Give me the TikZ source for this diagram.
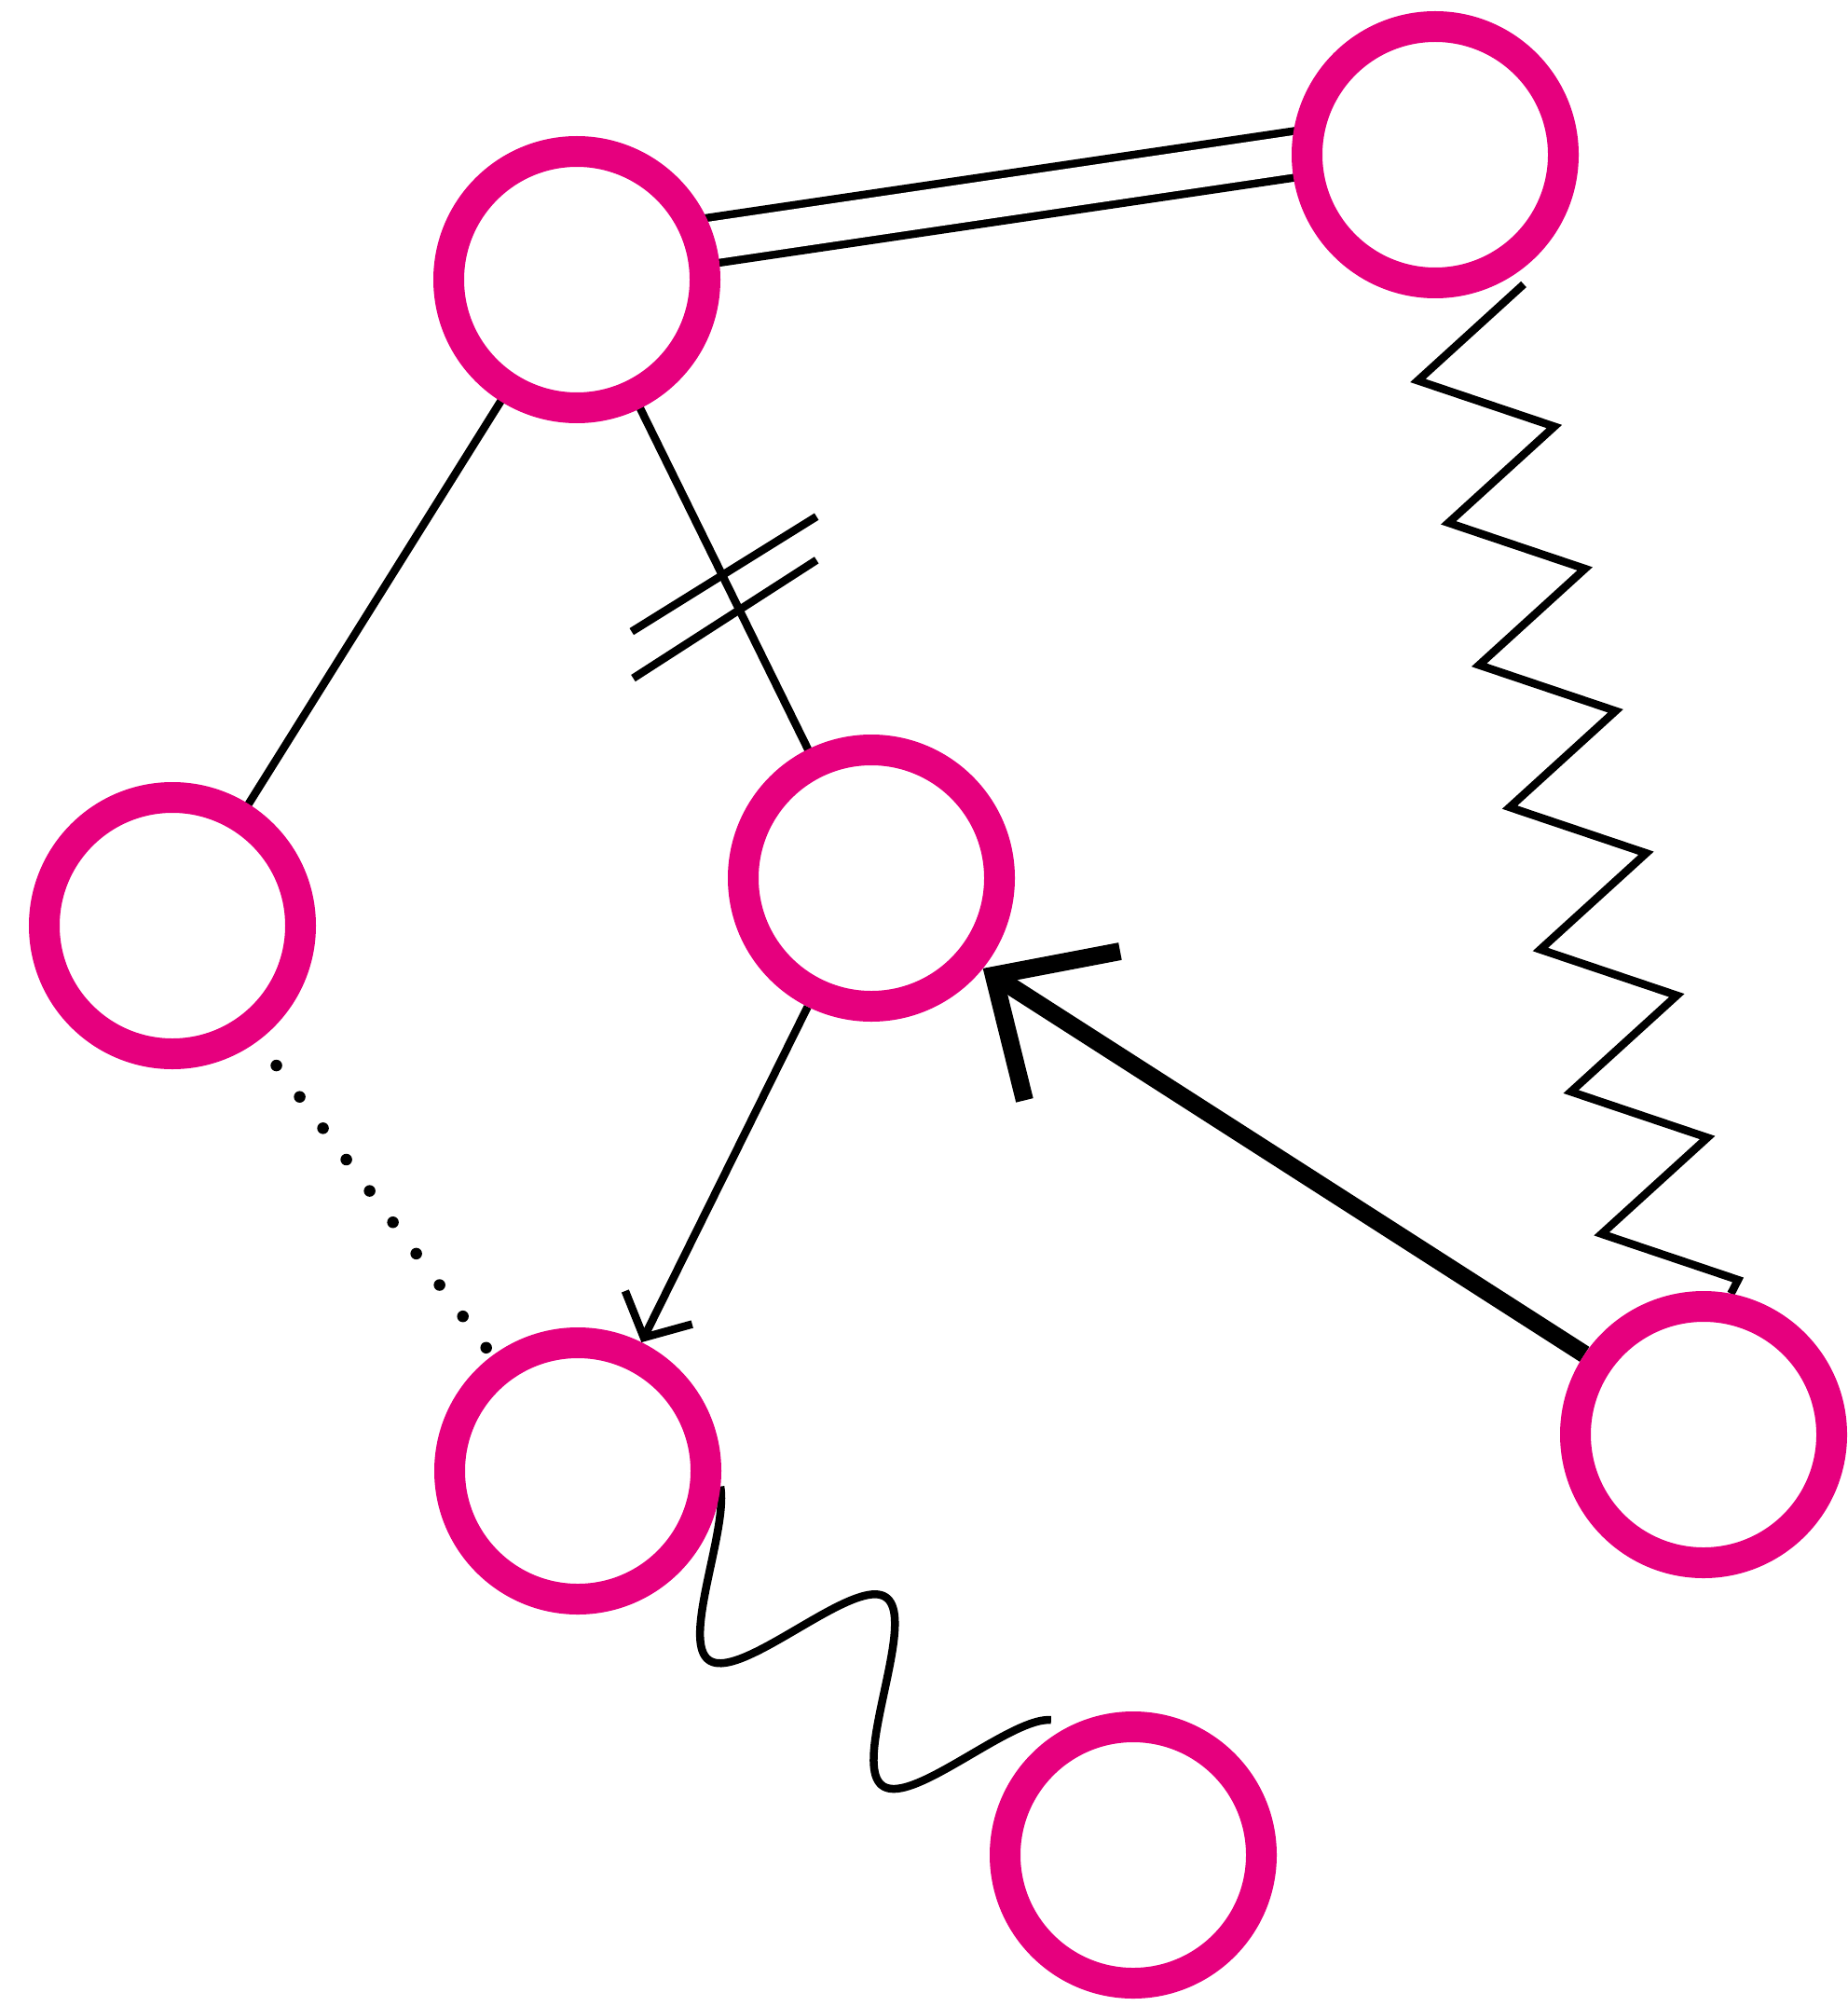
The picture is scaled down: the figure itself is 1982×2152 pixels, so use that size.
\documentclass[tikz,border=0pt]{standalone}
\usetikzlibrary{arrows.meta,calc}
\definecolor{ringpink}{RGB}{230,0,126}
\newdimen\pxu \pxu=0.01cm
\pgfdeclarelayer{edges}
\pgfsetlayers{edges,main}
\begin{document}
\begin{tikzpicture}[x=0.01cm,y=-0.01cm,
  ring/.style={circle, draw=ringpink, line width=33\pxu, minimum size=275\pxu, inner sep=0pt},
  conn/.style={draw=black, line width=8.5\pxu},
  ext/.style={shorten <=-14\pxu, shorten >=-14\pxu}]
\useasboundingbox (0,0) rectangle (1982,2152);
\node[ring] (A) at (619,300) {};
\node[ring] (B) at (1540,166) {};
\node[ring] (C) at (185,993) {};
\node[ring] (D) at (935,942) {};
\node[ring] (E) at (620,1578) {};
\node[ring] (F) at (1828,1539) {};
\node[ring] (G) at (1216,1990) {};
\begin{pgfonlayer}{edges}
% double line A = B
\draw[conn, double=white, double distance=41\pxu, ext] (A.16) -- (B.180);
% A -- C
\draw[conn, ext] (A) -- (C);
% A -- D with two hash marks
\draw[conn, ext] (A) -- (D);
\coordinate (h1) at ($(A)!0.492!(D)$);
\draw[conn] ($(h1)+(-96.7,61.7)$) -- ($(h1)+(101.7,-61.7)$);
\draw[conn] ($(h1)+(-95,111.7)$) -- ($(h1)+(101.7,-15)$);
% D -> E thin arrow
\draw[conn, -{Straight Barb[length=10.2pt, width=22.8pt]}] (D) -- (E);
% F -> D thick arrow
\draw[line width=19\pxu, -{Straight Barb[length=28.5pt, width=54pt]}] (F.146) -- (D.-39);
% zigzag B -- F
\coordinate (z0) at ([shift={(95,139)}]B.center);
\coordinate (z7) at ([shift={(37,-166)}]F.center);
\draw[conn] (z0)
  \foreach \k [evaluate=\k as \a using (\k-0.5)/7, evaluate=\k as \b using \k/7] in {1,...,7} {
    -- ($(z0)!\a!(z7)+(-130,27)$) -- ($(z0)!\b!(z7)$)
  } -- (F.79);
% dotted C .. E
\draw[line width=12.5\pxu, line cap=round, dash pattern=on 0pt off 11.92pt,
      shorten <=33\pxu, shorten >=9\pxu] (C) -- (E);
% wave E ~ G
\draw[conn, line join=round, shift={(E.center)}]
  plot[domain=25:705, samples=160, variable=\t]
  ({115.46+0.5175*(\t-37.6)+48.64*cos(\t)},{82.27+0.3744*(\t-37.6)-67.23*cos(\t)});
\end{pgfonlayer}
\end{tikzpicture}
\end{document}
